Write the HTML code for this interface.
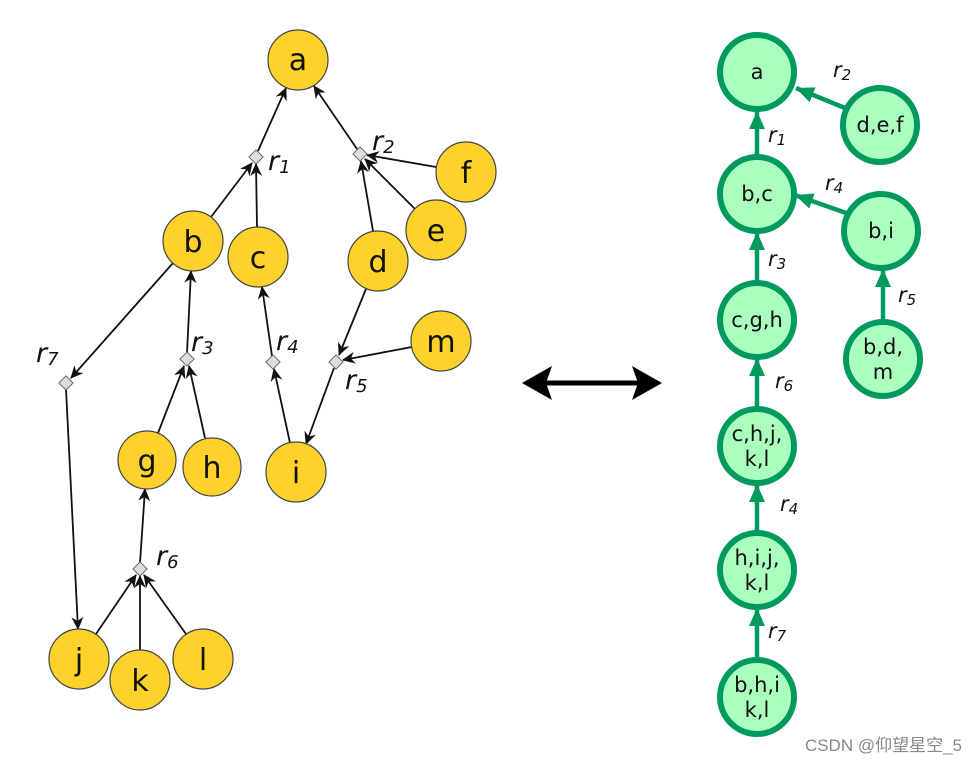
<!DOCTYPE html>
<html><head><meta charset="utf-8"><style>
html,body{margin:0;padding:0;background:#fff;}
svg{display:block;}
.ln{stroke:#111;stroke-width:1.8;fill:none;}
.yn{fill:#fdd22a;stroke:#444;stroke-width:1.2;}
.dm{fill:#ddd;stroke:#666;stroke-width:1;}
.lt{font-family:"DejaVu Sans","Liberation Sans",sans-serif;font-size:30px;fill:#111;text-anchor:middle;}
.rl{font-family:"DejaVu Sans","Liberation Sans",sans-serif;font-style:italic;font-size:27px;fill:#111;}
.rs{font-size:18px;}
.gn{fill:#aaffbf;stroke:#009a5e;stroke-width:6;}
.gt{font-family:"DejaVu Sans","Liberation Sans",sans-serif;font-size:21px;fill:#111;text-anchor:middle;}
.gl{stroke:#009a5e;stroke-width:4.5;fill:none;}
.gr{font-family:"DejaVu Sans","Liberation Sans",sans-serif;font-style:italic;font-size:21px;fill:#111;}
.grs{font-size:15px;}
</style></head><body>
<svg width="977" height="762" viewBox="0 0 977 762" xmlns="http://www.w3.org/2000/svg">
<defs>
<marker id="ah" markerWidth="13" markerHeight="12" refX="12" refY="6" orient="auto" markerUnits="userSpaceOnUse"><path d="M0,0 L13,6 L0,12 L4,6 z" fill="#111"/></marker>
<marker id="gh" markerWidth="20" markerHeight="20" refX="18" refY="10" orient="auto" markerUnits="userSpaceOnUse"><path d="M0,2 L18,10 L0,18 z" fill="#009a5e"/></marker>
</defs>
<g marker-end="url(#ah)">
<line class="ln" x1="258" y1="151" x2="286" y2="88"/>
<line class="ln" x1="357" y1="149" x2="314" y2="86"/>
<line class="ln" x1="211" y1="217" x2="252" y2="163"/>
<line class="ln" x1="257" y1="227" x2="256" y2="164"/>
<line class="ln" x1="373" y1="231" x2="361" y2="161"/>
<line class="ln" x1="415" y1="209" x2="365" y2="159"/>
<line class="ln" x1="436" y1="167" x2="367" y2="155"/>
<line class="ln" x1="173" y1="263" x2="71" y2="378"/>
<line class="ln" x1="187" y1="353" x2="191" y2="271"/>
<line class="ln" x1="158" y1="433" x2="184" y2="366"/>
<line class="ln" x1="205" y1="438" x2="189" y2="366"/>
<line class="ln" x1="272" y1="356" x2="262" y2="287"/>
<line class="ln" x1="290" y1="443" x2="274" y2="369"/>
<line class="ln" x1="366" y1="289" x2="339" y2="355"/>
<line class="ln" x1="412" y1="347" x2="343" y2="360"/>
<line class="ln" x1="334" y1="368" x2="306" y2="444"/>
<line class="ln" x1="66" y1="389" x2="78" y2="629"/>
<line class="ln" x1="140" y1="563" x2="145" y2="489"/>
<line class="ln" x1="96" y1="634" x2="136" y2="575"/>
<line class="ln" x1="140" y1="650" x2="140" y2="576"/>
<line class="ln" x1="186" y1="634" x2="144" y2="575"/>
</g>
<g>
<rect class="dm" x="251" y="152" width="10" height="10" transform="rotate(45 256 157)"/>
<rect class="dm" x="355" y="149" width="10" height="10" transform="rotate(45 360 154)"/>
<rect class="dm" x="182" y="354" width="10" height="10" transform="rotate(45 187 359)"/>
<rect class="dm" x="268" y="357" width="10" height="10" transform="rotate(45 273 362)"/>
<rect class="dm" x="331" y="357" width="10" height="10" transform="rotate(45 336 362)"/>
<rect class="dm" x="61" y="378" width="10" height="10" transform="rotate(45 66 383)"/>
<rect class="dm" x="135" y="564" width="10" height="10" transform="rotate(45 140 569)"/>
</g>
<g>
<circle class="yn" cx="298" cy="60" r="30"/><text class="lt" x="298" y="70">a</text>
<circle class="yn" cx="193" cy="241" r="30"/><text class="lt" x="193" y="252">b</text>
<circle class="yn" cx="258" cy="257" r="30"/><text class="lt" x="258" y="268">c</text>
<circle class="yn" cx="378" cy="261" r="30"/><text class="lt" x="378" y="272">d</text>
<circle class="yn" cx="436" cy="230" r="30"/><text class="lt" x="436" y="241">e</text>
<circle class="yn" cx="466" cy="172" r="30"/><text class="lt" x="466" y="183">f</text>
<circle class="yn" cx="441" cy="341" r="30"/><text class="lt" x="441" y="352">m</text>
<circle class="yn" cx="147" cy="460" r="29"/><text class="lt" x="147" y="471">g</text>
<circle class="yn" cx="212" cy="467" r="29"/><text class="lt" x="212" y="478">h</text>
<circle class="yn" cx="296" cy="472" r="30"/><text class="lt" x="296" y="483">i</text>
<circle class="yn" cx="79" cy="659" r="30"/><text class="lt" x="79" y="670">j</text>
<circle class="yn" cx="140" cy="680" r="30"/><text class="lt" x="140" y="691">k</text>
<circle class="yn" cx="203" cy="659" r="30"/><text class="lt" x="203" y="670">l</text>
</g>
<g>
<text class="rl" x="268" y="170">r<tspan class="rs" dy="3">1</tspan></text>
<text class="rl" x="372" y="150">r<tspan class="rs" dy="3">2</tspan></text>
<text class="rl" x="191" y="351">r<tspan class="rs" dy="3">3</tspan></text>
<text class="rl" x="276" y="350">r<tspan class="rs" dy="3">4</tspan></text>
<text class="rl" x="345" y="389">r<tspan class="rs" dy="3">5</tspan></text>
<text class="rl" x="156" y="565">r<tspan class="rs" dy="3">6</tspan></text>
<text class="rl" x="36" y="362">r<tspan class="rs" dy="3">7</tspan></text>
</g>
<line x1="540" y1="383" x2="644" y2="383" stroke="#000" stroke-width="5"/>
<path d="M522,383 L552,366 L546,383 L552,400 z" fill="#000"/>
<path d="M662,383 L632,366 L638,383 L632,400 z" fill="#000"/>
<g marker-end="url(#gh)">
<line class="gl" x1="845" y1="108" x2="796" y2="88"/>
<line class="gl" x1="757" y1="157" x2="757" y2="111"/>
<line class="gl" x1="846" y1="213" x2="795" y2="195"/>
<line class="gl" x1="757" y1="283" x2="757" y2="232"/>
<line class="gl" x1="883" y1="322" x2="883" y2="269"/>
<line class="gl" x1="757" y1="409" x2="757" y2="358"/>
<line class="gl" x1="757" y1="533" x2="757" y2="484"/>
<line class="gl" x1="757" y1="660" x2="757" y2="608"/>
</g>
<g>
<circle class="gn" cx="757" cy="72" r="37"/><text class="gt" x="757" y="79">a</text>
<circle class="gn" cx="880" cy="125" r="37"/><text class="gt" x="880" y="132">d,e,f</text>
<circle class="gn" cx="757" cy="194" r="37"/><text class="gt" x="757" y="201">b,c</text>
<circle class="gn" cx="881" cy="231" r="37"/><text class="gt" x="881" y="238">b,i</text>
<circle class="gn" cx="757" cy="320" r="37"/><text class="gt" x="757" y="327">c,g,h</text>
<circle class="gn" cx="883" cy="359" r="37"/><text class="gt" x="883" y="354">b,d,</text><text class="gt" x="883" y="379">m</text>
<circle class="gn" cx="757" cy="446" r="37"/><text class="gt" x="757" y="441">c,h,j,</text><text class="gt" x="757" y="466">k,l</text>
<circle class="gn" cx="757" cy="570" r="37"/><text class="gt" x="757" y="565">h,i,j,</text><text class="gt" x="757" y="590">k,l</text>
<circle class="gn" cx="757" cy="697" r="37"/><text class="gt" x="757" y="692">b,h,i</text><text class="gt" x="757" y="717">k,l</text>
</g>
<g>
<text class="gr" x="768" y="142">r<tspan class="grs" dy="3">1</tspan></text>
<text class="gr" x="833" y="77">r<tspan class="grs" dy="3">2</tspan></text>
<text class="gr" x="825" y="190">r<tspan class="grs" dy="3">4</tspan></text>
<text class="gr" x="768" y="266">r<tspan class="grs" dy="3">3</tspan></text>
<text class="gr" x="898" y="302">r<tspan class="grs" dy="3">5</tspan></text>
<text class="gr" x="775" y="388">r<tspan class="grs" dy="3">6</tspan></text>
<text class="gr" x="780" y="511">r<tspan class="grs" dy="3">4</tspan></text>
<text class="gr" x="768" y="638">r<tspan class="grs" dy="3">7</tspan></text>
</g>
<text x="962" y="751" text-anchor="end" font-family="'Liberation Sans','Noto Sans CJK SC',sans-serif" font-size="17" fill="#888">CSDN @仰望星空_5</text>
</svg>
</body></html>
